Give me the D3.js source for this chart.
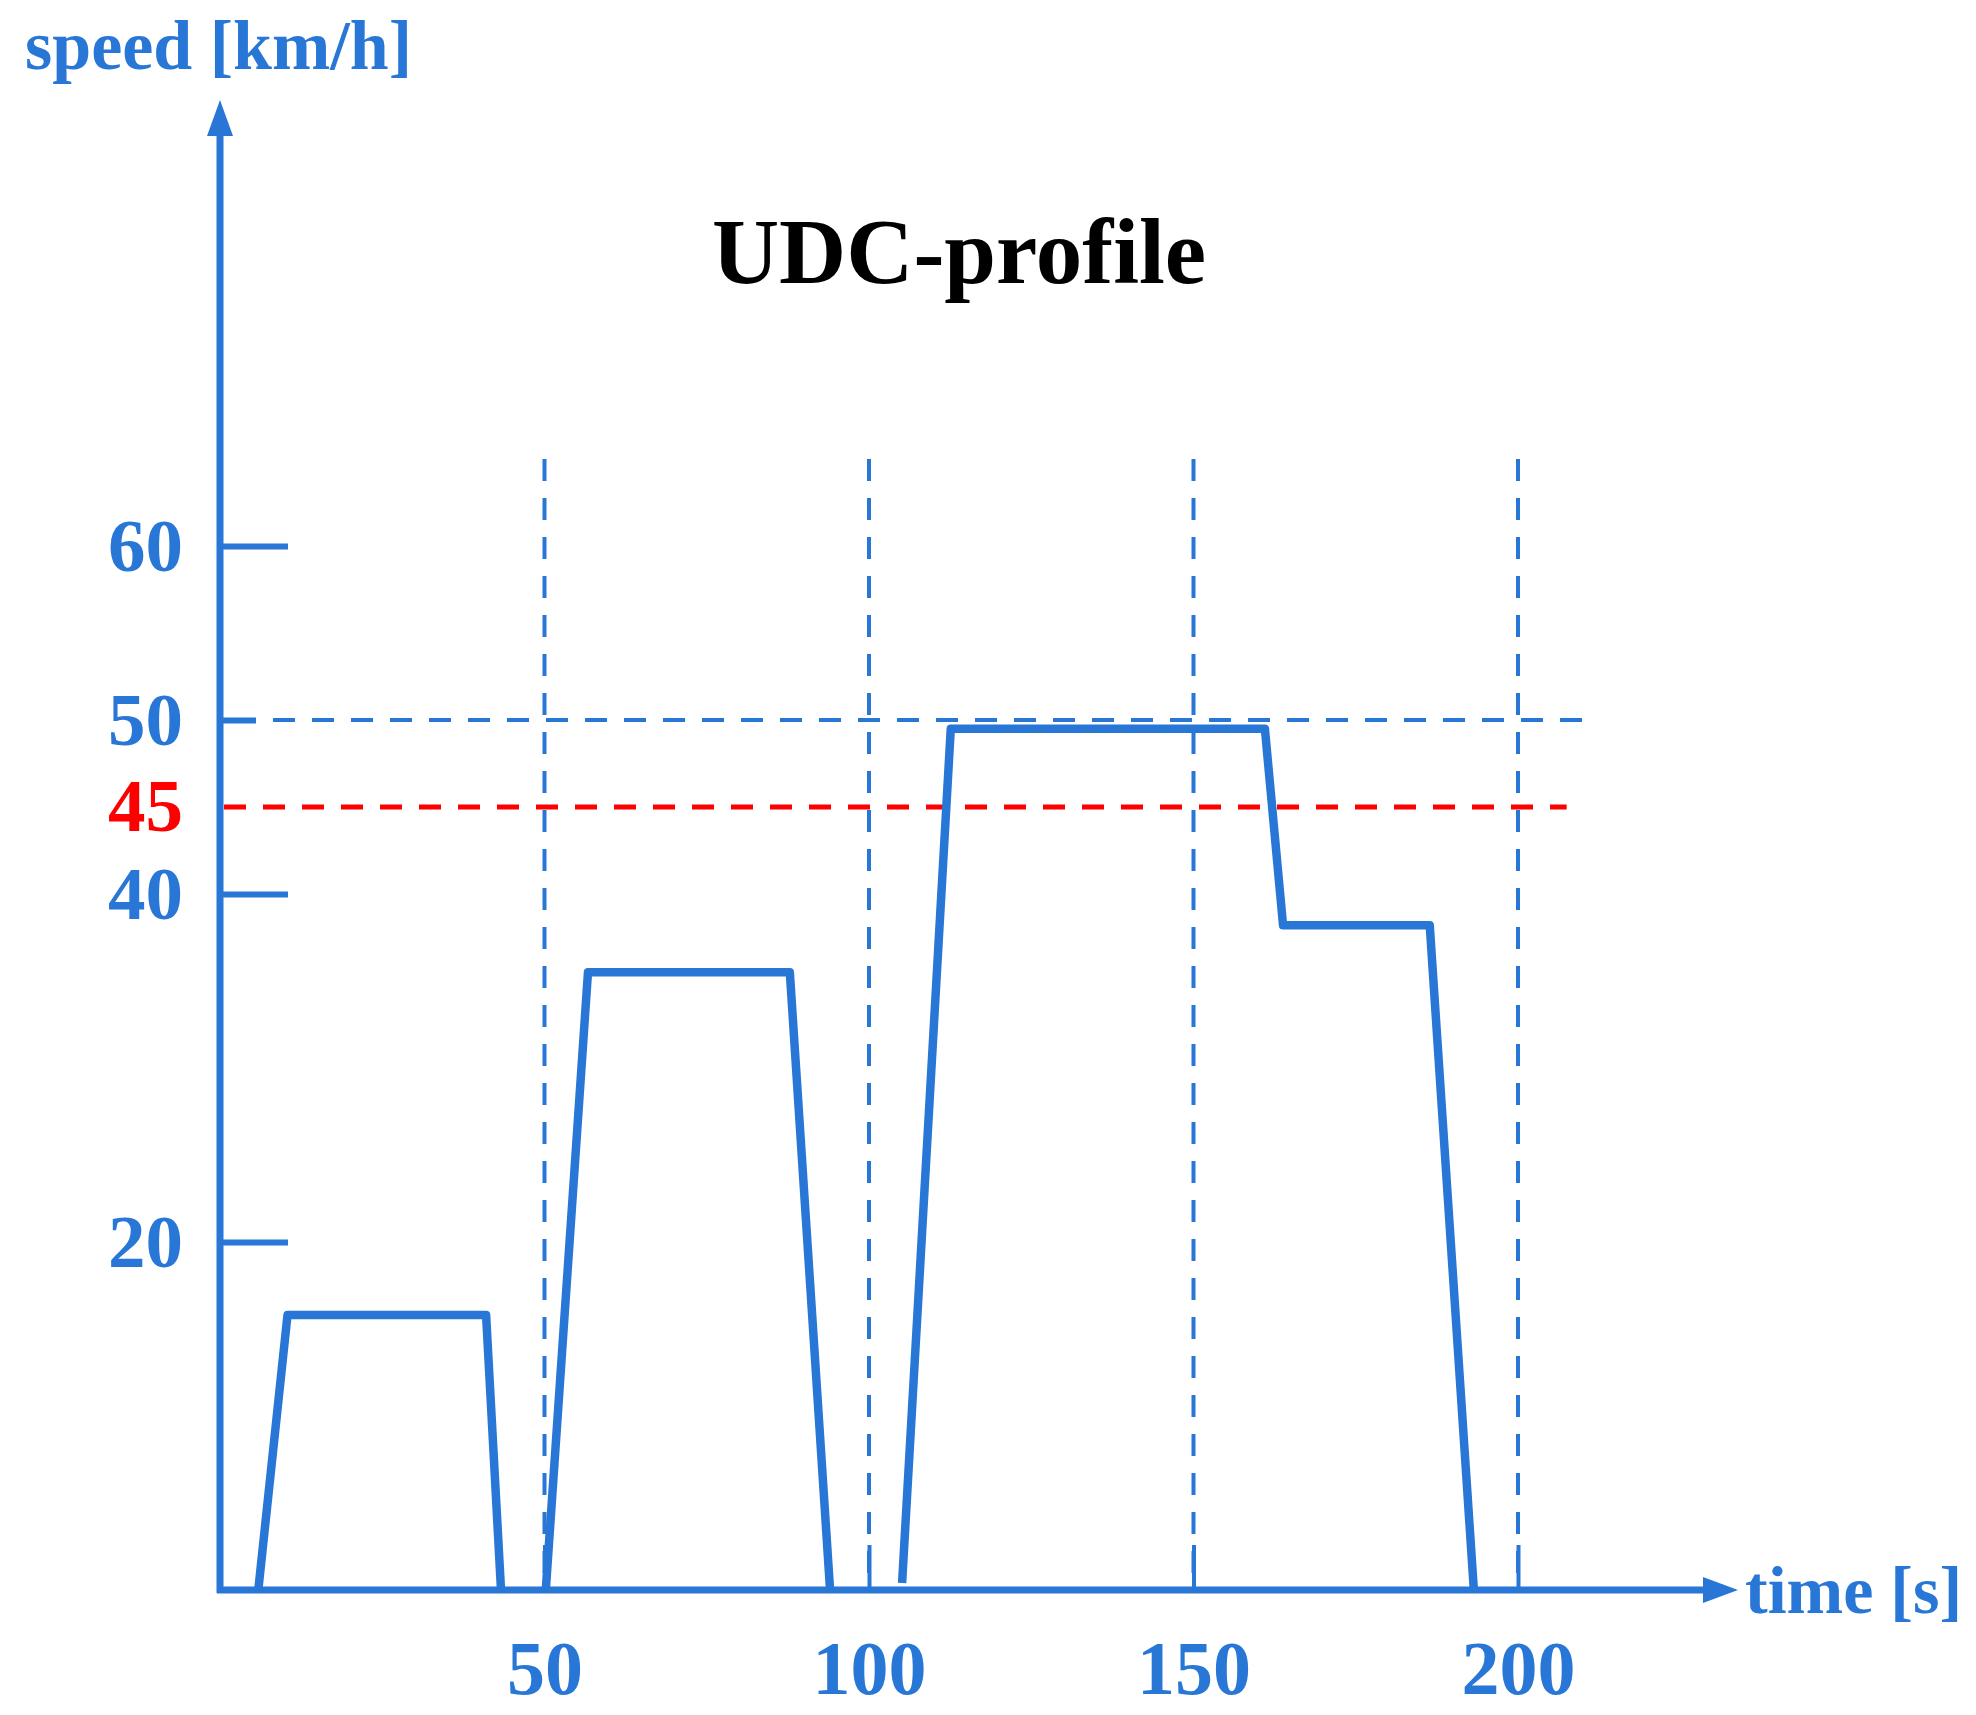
<!DOCTYPE html>
<html>
<head>
<meta charset="utf-8">
<script src="https://cdn.jsdelivr.net/npm/d3@7"></script>
<style>
	body { margin: 0; background: #fff; }
	svg text { font-family: 'Liberation Serif', 'Times New Roman', serif; font-weight: bold; }
</style>
</head>
<body>
<div id="chart"></div>
<script>
const w = 1976;
const h = 1715;

const blue = '#2877d6';
const red = '#ff0000';

// speed profile (time in s, speed in km/h); null splits the segments
const times = [5.9, 10.4, 41.0, 43.3, null, 50.2, 56.7, 87.8, 94.0, null, 105.1, 112.6, 159.6, 161.0, 163.8, 186.4, 193.2];
const speeds = [0, 15.8, 15.8, 0, null, 0, 35.5, 35.5, 0, null, 0.4, 49.5, 49.5, 49.5, 38.2, 38.2, 0];

const yTicks = [20, 40, 50, 60];
const xTicks = [50, 100, 150, 200];
const xGuides = [50, 100, 150, 200];
const limit = 45;
const refSpeed = 50;

const svg = d3
	.select('#chart')
	.append('svg')
	.attr('width', w)
	.attr('height', h);

const xScale = d3.scaleLinear().domain([0, 200]).range([220, 1518]);
const yScale = d3.scaleLinear().domain([0, 60]).range([1590, 546]);

// dashed guides
svg
	.selectAll('.vguide')
	.data(xGuides)
	.enter()
	.append('line')
	.attr('class', 'vguide')
	.attr('x1', d => xScale(d))
	.attr('x2', d => xScale(d))
	.attr('y1', yScale(65))
	.attr('y2', yScale(0))
	.attr('stroke', blue)
	.attr('stroke-width', 4)
	.attr('stroke-dasharray', '22 17');

svg
	.append('line')
	.attr('x1', xScale(0) + 38)
	.attr('x2', xScale(210))
	.attr('y1', yScale(refSpeed))
	.attr('y2', yScale(refSpeed))
	.attr('stroke', blue)
	.attr('stroke-width', 4)
	.attr('stroke-dasharray', '22 17')
	.attr('stroke-dashoffset', -15);

svg
	.append('line')
	.attr('x1', xScale(0) + 4)
	.attr('x2', xScale(207.5))
	.attr('y1', yScale(limit))
	.attr('y2', yScale(limit))
	.attr('stroke', red)
	.attr('stroke-width', 5)
	.attr('stroke-dasharray', '22 17');

// axes
const yAxis = d3.axisLeft(yScale).tickValues(yTicks).tickSizeInner(-68).tickSizeOuter(0).tickPadding(37);
const gy = svg.append('g').attr('transform', `translate(${xScale(0)},0)`).call(yAxis);
gy.select('.domain').remove();
gy.selectAll('.tick line').attr('stroke', blue).attr('stroke-width', 6)
	.filter(d => d === refSpeed).attr('x2', 36);
gy.selectAll('.tick text').attr('fill', blue).style('font-size', '75px');

gy.append('text')
	.attr('x', -37)
	.attr('y', yScale(limit))
	.attr('dy', '0.32em')
	.attr('text-anchor', 'end')
	.attr('fill', red)
	.style('font-size', '75px')
	.text(limit);

const xAxis = d3.axisBottom(xScale).tickValues(xTicks).tickSizeInner(-45).tickSizeOuter(0).tickPadding(50);
const gx = svg.append('g').attr('transform', `translate(0,${yScale(0)})`).call(xAxis);
gx.select('.domain').remove();
gx.selectAll('.tick line').attr('stroke', blue).attr('stroke-width', 4);
gx.selectAll('.tick text').attr('fill', blue).style('font-size', '76px');

// axis lines with arrows
svg.append('line')
	.attr('x1', xScale(0)).attr('x2', xScale(0))
	.attr('y1', yScale(0) + 3).attr('y2', 130)
	.attr('stroke', blue).attr('stroke-width', 7);
svg.append('path')
	.attr('d', `M${xScale(0)},100 L${xScale(0) - 13},136 L${xScale(0) + 13},136 Z`)
	.attr('fill', blue);

svg.append('line')
	.attr('x1', xScale(0) - 3).attr('x2', 1710)
	.attr('y1', yScale(0)).attr('y2', yScale(0))
	.attr('stroke', blue).attr('stroke-width', 7);
svg.append('path')
	.attr('d', `M1738,${yScale(0)} L1703,${yScale(0) - 13} L1703,${yScale(0) + 13} Z`)
	.attr('fill', blue);

// speed profile
const line = d3
	.line()
	.defined(d => d[0] !== null)
	.x(d => xScale(d[0]))
	.y(d => yScale(d[1]));
svg.append('path')
	.datum(times.map((t, i) => [t, speeds[i]]))
	.attr('d', line)
	.attr('fill', 'none')
	.attr('stroke', blue)
	.attr('stroke-width', 8.5)
	.attr('stroke-linejoin', 'round');

// labels
svg.append('text')
	.attr('x', 25)
	.attr('y', 69)
	.attr('fill', blue)
	.style('font-size', '70px')
	.text('speed [km/h]');

svg.append('text')
	.attr('x', 1745)
	.attr('y', 1613)
	.attr('fill', blue)
	.style('font-size', '68px')
	.text('time [s]');

svg.append('text')
	.attr('x', 959)
	.attr('y', 283)
	.attr('text-anchor', 'middle')
	.attr('fill', '#000')
	.style('font-size', '93px')
	.text('UDC-profile');
</script>
</body>
</html>
